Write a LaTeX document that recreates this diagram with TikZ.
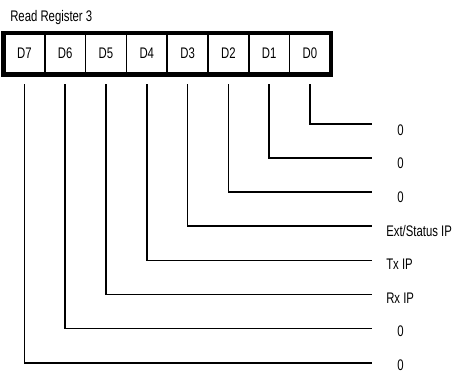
\documentclass[tikz,border=0pt]{standalone}
\usepackage{fontspec}
\setmainfont[FakeStretch=0.74]{Liberation Sans}
\usetikzlibrary{calc}

\begin{document}
\begin{tikzpicture}[x=0.75pt,y=-0.75pt,font=\fontsize{11.5}{13}\selectfont,
	bitcell/.style={draw,line width=1.1pt,minimum width=30.6pt,minimum height=30pt,inner sep=0pt},
	wire/.style={line width=1.3pt},
	bitlabel/.style={anchor=west,inner sep=0pt}]
	\useasboundingbox (0,0) rectangle (462,372);
	\node[anchor=base west,inner sep=0pt] (title) at (10,21) {Read Register 3};
	\foreach \b [count=\k from 0] in {7,...,0} {\node[bitcell] (d\b) at ({24.4+40.8*\k},53.5) {D\b};}
	\draw[line width=3.4pt] (d7.north west) rectangle (d0.south east);
	\foreach \b/\l/\lx in {0/0/397, 1/0/397, 2/0/397, 3/{Ext/Status IP}/386, 4/Tx IP/386, 5/Rx IP/386, 6/0/397, 7/0/397} {\coordinate (e\b) at (372,{124+34.1*\b}); \node[bitlabel] (l\b) at (\lx,{130+33.6*\b}) {\l}; \draw[wire] ($(d\b.south)+(0,10)$) |- (e\b);}
\end{tikzpicture}
\end{document}
